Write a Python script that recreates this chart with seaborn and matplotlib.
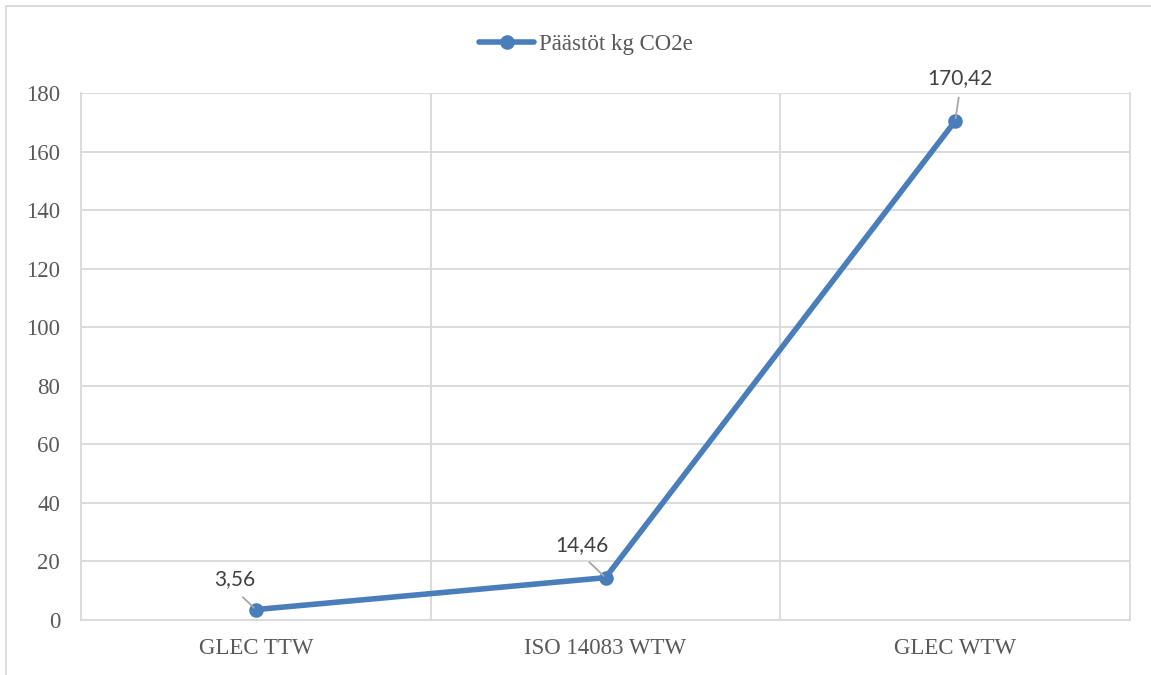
import matplotlib
matplotlib.use("Agg")
import matplotlib.pyplot as plt
from matplotlib.lines import Line2D
import seaborn as sns
import pandas as pd

categories = ["GLEC TTW", "ISO 14083 WTW", "GLEC WTW"]
values = [3.56, 14.46, 170.42]
value_labels = ["3,56", "14,46", "170,42"]
series_name = "Päästöt kg CO2e"
y_ticks = [0, 20, 40, 60, 80, 100, 120, 140, 160, 180]

df = pd.DataFrame({"cat": categories, "val": values, "series": series_name})

sns.set_theme(style="white")
SERIF = ["Liberation Serif", "DejaVu Serif"]
plt.rcParams["font.family"] = SERIF

LINE_C = "#4A7EBB"
GRID_C = "#D9D9D9"
TEXT_C = "#595959"

fig = plt.figure(figsize=(11.51, 6.75), dpi=100)
ax = fig.add_axes([81 / 1151, 1 - 620 / 675, (1130 - 81) / 1151, (620 - 93) / 675])

sns.lineplot(data=df, x="cat", y="val", hue="series", palette=[LINE_C], sort=False,
             marker="o", markersize=10.5, markeredgewidth=0, linewidth=4.0, ax=ax,
             legend=False)

ax.set_xlim(-0.5, 2.5)
ax.set_ylim(0, 180)
ax.set_yticks(y_ticks)
ax.set_xticks(range(len(categories)))
ax.set_xticklabels(categories)
ax.set_xticks([0.5, 1.5], minor=True)
ax.set_xlabel("")
ax.set_ylabel("")

ax.grid(False)
ax.yaxis.grid(True, color=GRID_C, linewidth=1.3)
ax.xaxis.grid(True, which="minor", color=GRID_C, linewidth=1.3)
ax.set_axisbelow(True)
for side in ["left", "right", "bottom"]:
    ax.spines[side].set_visible(True)
    ax.spines[side].set_color(GRID_C)
    ax.spines[side].set_linewidth(1.3)
ax.spines["top"].set_visible(False)

ax.tick_params(axis="both", which="both", length=0, colors=TEXT_C, labelsize=16.5)
ax.tick_params(axis="y", pad=15)
ax.tick_params(axis="x", pad=13)
for t in ax.get_xticklabels() + ax.get_yticklabels():
    t.set_family(SERIF)

offsets = [(-21, 30), (-24, 33), (5, 43)]
for i, (v, lab) in enumerate(zip(values, value_labels)):
    ax.annotate(lab, xy=(i, v), xytext=offsets[i], textcoords="offset pixels",
                ha="center", va="center", fontsize=15, color="#404040",
                family=["Lato", "DejaVu Sans"],
                arrowprops=dict(arrowstyle="-", color="#A6A6A6", lw=1.3,
                                relpos=(0.5, 0.0), shrinkA=4.5, shrinkB=2))

handle = Line2D([], [], color=LINE_C, linewidth=4.0, marker="o", markersize=10.5,
                markeredgewidth=0)
fig.legend([handle], [series_name], loc="center", bbox_to_anchor=(586 / 1151, 1 - 44 / 675),
           frameon=False, prop={"family": SERIF, "size": 16.5}, handlelength=2.4,
           handletextpad=0.2, labelcolor=TEXT_C, borderpad=0)

# chart-area border (top and left visible in the reference)
fig.add_artist(Line2D([6 / 1151, 1], [1 - 6 / 675, 1 - 6 / 675], transform=fig.transFigure,
                      color=GRID_C, linewidth=1.3))
fig.add_artist(Line2D([6 / 1151, 6 / 1151], [0, 1 - 6 / 675], transform=fig.transFigure,
                      color=GRID_C, linewidth=1.3))

fig.savefig("out.png", dpi=100, facecolor="white")
